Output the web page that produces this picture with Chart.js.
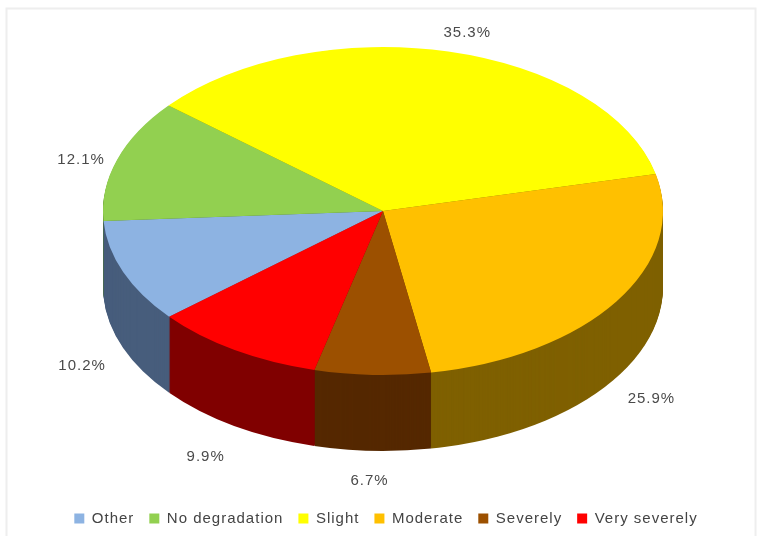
<!DOCTYPE html>
<html>
<head>
<meta charset="utf-8">
<style>html,body{margin:0;padding:0;background:#fff}canvas{display:block;filter:blur(0.4px)}</style>
<script src="https://cdn.jsdelivr.net/npm/chart.js@4"></script>
</head>
<body>
<canvas id="c" width="759" height="536"></canvas>
<script>
const categories = ["Other", "No degradation", "Slight", "Moderate", "Severely", "Very severely"];
const values = [10.2, 12.1, 35.3, 25.9, 6.7, 9.9];
const topColors = ["#8db3e2", "#92d050", "#ffff00", "#ffc000", "#9c5000", "#ff0000"];
const sideColors = ["#475d7c", "#4f7a28", "#808000", "#7f6000", "#552800", "#800000"];

const view = {cx: 383, cy: 211, rx: 280, ry: 164, depth: 76};
const labelShift = [[-41, 94], [-36, 0], [19, -19], [35, 97], [-3, 106], [-29, 107]];

function project(ctx, el) {
  ctx.translate(view.cx, view.cy);
  ctx.scale(view.rx / el.outerRadius, view.ry / el.outerRadius);
  ctx.translate(-el.x, -el.y);
}

const pie3d = {
  id: 'pie3d',
  beforeUpdate(chart) {
    chart.ctx.letterSpacing = '1px';
  },
  beforeDraw(chart) {
    const ctx = chart.ctx;
    ctx.letterSpacing = '1px';
    ctx.save();
    ctx.strokeStyle = '#eeeeee';
    ctx.lineWidth = 2;
    ctx.strokeRect(6.5, 8.5, 749, 600);
    ctx.restore();
  },
  beforeDatasetsDraw(chart) {
    const ctx = chart.ctx;
    const arcs = chart.getDatasetMeta(0).data;
    for (let d = view.depth; d >= 1; d--) {
      arcs.forEach((el, i) => {
        ctx.save();
        ctx.translate(0, d);
        project(ctx, el);
        ctx.beginPath();
        ctx.moveTo(el.x, el.y);
        ctx.arc(el.x, el.y, el.outerRadius, el.startAngle, el.endAngle);
        ctx.closePath();
        ctx.fillStyle = sideColors[i];
        ctx.fill();
        ctx.restore();
      });
    }
    ctx.save();
    project(ctx, arcs[0]);
  },
  afterDatasetsDraw(chart) {
    const ctx = chart.ctx;
    ctx.restore();
    const arcs = chart.getDatasetMeta(0).data;
    ctx.save();
    ctx.font = '15px "Liberation Sans"';
    ctx.fillStyle = '#4a4a4a';
    ctx.textAlign = 'center';
    ctx.textBaseline = 'middle';
    arcs.forEach((el, i) => {
      const mid = (el.startAngle + el.endAngle) / 2;
      const x = view.cx + view.rx * Math.cos(mid) + labelShift[i][0];
      const y = view.cy + view.ry * Math.sin(mid) + labelShift[i][1];
      ctx.fillText(values[i].toFixed(1) + '%', x, y);
    });
    ctx.restore();
  }
};

new Chart(document.getElementById('c'), {
  type: 'pie',
  data: {
    labels: categories,
    datasets: [{data: values, backgroundColor: topColors, borderWidth: 0, clip: false}]
  },
  options: {
    responsive: false,
    animation: false,
    rotation: 229.8,
    layout: {padding: {left: 13, bottom: 0}},
    plugins: {
      tooltip: {enabled: false},
      legend: {
        position: 'bottom',
        labels: {
          boxWidth: 10,
          boxHeight: 10,
          padding: 15,
          color: '#444444',
          font: {family: '"Liberation Sans"', size: 15}
        }
      }
    }
  },
  plugins: [pie3d]
});
</script>
</body>
</html>
